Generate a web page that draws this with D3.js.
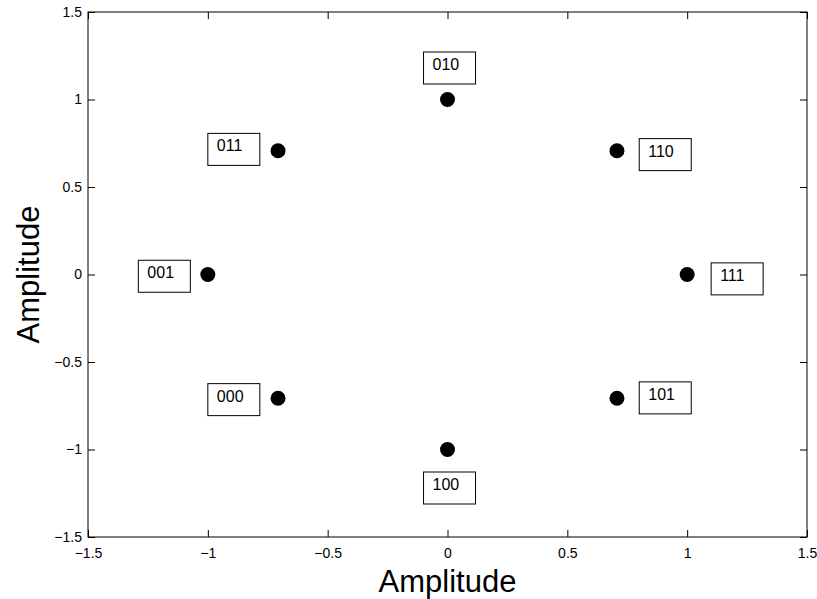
<!DOCTYPE html>
<html>
<head>
<meta charset="utf-8">
<script src="https://cdn.jsdelivr.net/npm/d3@7"></script>
<style>
  html, body { margin: 0; padding: 0; background: #fff; }
  svg { display: block; }
  text { font-family: "Liberation Sans", Arial, Helvetica, sans-serif; fill: #000; }
</style>
</head>
<body>
<svg id="chart" width="817" height="599"></svg>
<script>
// 8-PSK constellation: symbol bits and in-phase / quadrature amplitudes
const symbols = ["000", "001", "010", "011", "100", "101", "110", "111"];
const inPhase = [-0.7071, -1, 0, -0.7071, 0, 0.7071, 0.7071, 1];
const quadrature = [-0.7071, 0, 1, 0.7071, -1, -0.7071, 0.7071, 0];
// text anchor of each bit label (left edge, vertical centre) in data units
const labelX = [-1.0, -1.29, -0.1, -1.0, -0.1, 0.8, 0.8, 1.1];
const labelY = [-0.715, -0.01, 1.18, 0.715, -1.22, -0.705, 0.685, -0.025];
const tickValues = [-1.5, -1, -0.5, 0, 0.5, 1, 1.5];
const xDomain = [-1.5, 1.5];
const yDomain = [-1.5, 1.5];

const svg = d3.select("#chart");
const margin = { left: 88, right: 10, top: 12, bottom: 62 };
const W = 817, H = 599;
const x = d3.scaleLinear().domain(xDomain).range([margin.left, W - margin.right]);
const y = d3.scaleLinear().domain(yDomain).range([H - margin.bottom, margin.top]);

const fmt = v => (v < 0 ? "\u2212" : "") + d3.format("~g")(Math.abs(v));
const tickLen = 7;

// axes: ticks point inward, mirrored on the top and right edges
const axisBottom = d3.axisBottom(x).tickValues(tickValues).tickFormat(fmt).tickSizeInner(-tickLen).tickSizeOuter(0).tickPadding(11);
const axisLeft = d3.axisLeft(y).tickValues(tickValues).tickFormat(fmt).tickSizeInner(-tickLen).tickSizeOuter(0).tickPadding(6);
const axisTop = d3.axisTop(x).tickValues(tickValues).tickFormat("").tickSizeInner(-tickLen).tickSizeOuter(0);
const axisRight = d3.axisRight(y).tickValues(tickValues).tickFormat("").tickSizeInner(-tickLen).tickSizeOuter(0);

function styleAxis(g) {
  g.attr("font-size", null).attr("font-family", null);
  g.select(".domain").remove();
  g.selectAll(".tick line").attr("stroke", "#000").attr("stroke-width", 1);
  g.selectAll(".tick text").attr("fill", "#000")
    .style("font-size", "14px")
    .style("font-family", '"Liberation Sans", Arial, sans-serif');
}

svg.append("g").attr("transform", `translate(0,${y(-1.5)})`).call(axisBottom).call(styleAxis);
svg.append("g").attr("transform", `translate(${x(-1.5)},0)`).call(axisLeft).call(styleAxis);
svg.append("g").attr("transform", `translate(0,${y(1.5)})`).call(axisTop).call(styleAxis);
svg.append("g").attr("transform", `translate(${x(1.5)},0)`).call(axisRight).call(styleAxis);

// plot frame
svg.append("rect")
  .attr("x", x(-1.5)).attr("y", y(1.5))
  .attr("width", x(1.5) - x(-1.5)).attr("height", y(-1.5) - y(1.5))
  .attr("fill", "none").attr("stroke", "#000").attr("stroke-width", 1);

// constellation points
svg.append("g").selectAll("circle")
  .data(symbols)
  .join("circle")
  .attr("cx", (d, i) => x(inPhase[i]))
  .attr("cy", (d, i) => y(quadrature[i]))
  .attr("r", 7.5)
  .attr("fill", "#000");

// boxed bit labels
const boxW = 52, boxH = 32, pad = 9;
const labels = svg.append("g").selectAll("g")
  .data(symbols)
  .join("g")
  .attr("transform", (d, i) => `translate(${x(labelX[i])},${y(labelY[i])})`);
labels.append("rect")
  .attr("x", 0).attr("y", -boxH / 2)
  .attr("width", boxW).attr("height", boxH)
  .attr("fill", "#fff").attr("stroke", "#000").attr("stroke-width", 1);
labels.append("text")
  .attr("x", pad).attr("y", 2)
  .style("font-size", "16px")
  .text(d => d);

// axis titles
svg.append("text")
  .attr("x", (x(-1.5) + x(1.5)) / 2).attr("y", 592)
  .attr("text-anchor", "middle").style("font-size", "31px")
  .text("Amplitude");
svg.append("text")
  .attr("transform", `translate(39,${(y(-1.5) + y(1.5)) / 2}) rotate(-90)`)
  .attr("text-anchor", "middle").style("font-size", "31px")
  .text("Amplitude");
</script>
</body>
</html>
